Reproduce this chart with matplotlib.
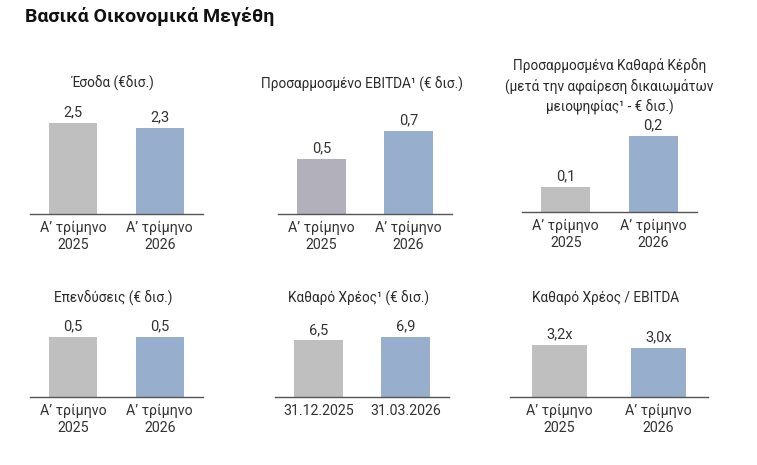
import matplotlib
matplotlib.use("Agg")
import matplotlib.pyplot as plt

plt.rcParams['font.family'] = ['Roboto', 'DejaVu Sans']

# ---- data ----
main_title = "Βασικά Οικονομικά Μεγέθη"
quarter_labels = ["Α’ τρίμηνο\n2025", "Α’ τρίμηνο\n2026"]
date_labels = ["31.12.2025", "31.03.2026"]

revenue = [2.46, 2.33]
adj_ebitda = [0.47, 0.71]
adj_net_profit = [0.07, 0.21]
investments = [0.5, 0.5]
net_debt = [6.5, 6.9]
net_debt_ebitda = [3.2, 3.0]

titles = [
    "Έσοδα (€δισ.)",
    "Προσαρμοσμένο EBITDA¹ (€ δισ.)",
    "Προσαρμοσμένα Καθαρά Κέρδη\n(μετά την αφαίρεση δικαιωμάτων\nμειοψηφίας¹ - € δισ.)",
    "Επενδύσεις (€ δισ.)",
    "Καθαρό Χρέος¹ (€ δισ.)",
    "Καθαρό Χρέος / EBITDA",
]

W, H = 757, 465
fig = plt.figure(figsize=(W / 100, H / 100), dpi=100)
fig.patch.set_facecolor("white")

GRAY = "#bfbfbf"
GRAY2 = "#b2b1bb"
BLUE = "#98aecd"
TXT = "#333333"

# layout: (left px, right px, baseline px, top-of-tallest-bar px, title y px)
panels = [
    (revenue, quarter_labels, "{:.1f}", (30, 203, 214, 123), 83, GRAY),
    (adj_ebitda, quarter_labels, "{:.1f}", (278, 452, 214, 131), 84, GRAY2),
    (adj_net_profit, quarter_labels, "{:.1f}", (522, 697, 212, 136), 84, GRAY),
    (investments, quarter_labels, "{:.1f}", (30, 203, 397, 337), 298, GRAY),
    (net_debt, date_labels, "{:.1f}", (275, 449, 397, 337), 298, GRAY),
    (net_debt_ebitda, quarter_labels, "{:.1f}x", (510, 708, 397, 345), 298, GRAY),
]

for (vals, labels, fmt, (l, r, base, top), ty, gcol), title in zip(panels, titles):
    ax = fig.add_axes([l / W, 1 - base / H, (r - l) / W, (base - top) / H])
    x = list(range(len(vals)))
    ax.bar(x, vals, width=0.555, color=[gcol, BLUE], clip_on=False)
    ax.set_xlim(-0.5, 1.5)
    ax.set_ylim(0, max(vals))
    for xi, v in zip(x, vals):
        ax.annotate(fmt.format(v).replace(".", ","), (xi, v), xytext=(0, 2.5),
                    textcoords="offset points", ha="center", va="bottom",
                    fontsize=10.5, color=TXT, annotation_clip=False)
    ax.set_xticks(x)
    ax.set_xticklabels(labels, fontsize=10.2, color=TXT, linespacing=1.25)
    ax.tick_params(axis="x", length=0, pad=5)
    ax.set_yticks([])
    for s in ["top", "right", "left"]:
        ax.spines[s].set_visible(False)
    ax.spines["bottom"].set_color("#555555")
    ax.spines["bottom"].set_linewidth(1.0)
    ax.patch.set_alpha(0)
    cx = (l + r) / 2 / W
    if "\n" in title:
        fig.text(cx, 1 - 58 / H, title, ha="center", va="top", fontsize=9.8,
                 color="#2a2a2a", linespacing=1.45)
    else:
        fig.text(cx - 3 / W, 1 - ty / H, title, ha="center", va="center",
                 fontsize=9.8, color="#2a2a2a")

fig.text(25 / W, 1 - 16 / H, main_title, ha="left", va="center",
         fontsize=14, fontweight="bold", color="#111111")

fig.savefig("out.png", dpi=100)
